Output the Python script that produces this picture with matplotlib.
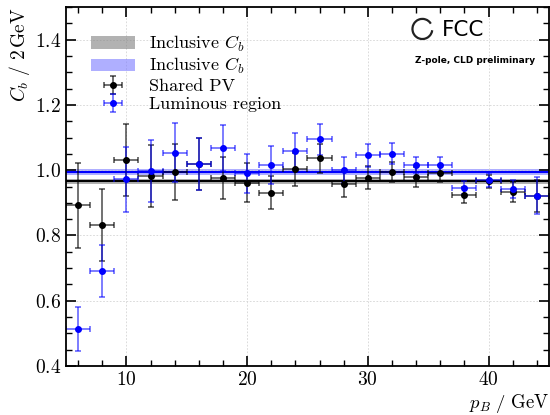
import numpy as np
import matplotlib
matplotlib.use("Agg")
import matplotlib.pyplot as plt
from matplotlib.patches import Arc

plt.rcParams['font.family'] = 'serif'
plt.rcParams['font.serif'] = ['cmr10']
plt.rcParams['mathtext.fontset'] = 'cm'
plt.rcParams['axes.formatter.use_mathtext'] = True
plt.rcParams['axes.unicode_minus'] = False

# bin centres / half widths (GeV)
p_b = np.arange(6, 46, 2)
p_err = np.ones(len(p_b))

# Shared PV
cb_pv = [0.892, 0.832, 1.032, 0.982, 0.995, 1.018, 0.977, 0.962, 0.931, 1.003,
         1.036, 0.957, 0.977, 0.995, 0.979, 0.990, 0.924, 0.966, 0.934, 0.921]
cb_pv_err = [0.13, 0.11, 0.11, 0.095, 0.085, 0.08, 0.065, 0.06, 0.05, 0.05,
             0.045, 0.04, 0.035, 0.03, 0.03, 0.025, 0.025, 0.02, 0.03, 0.05]

# Luminous region
cb_lr = [0.514, 0.691, 0.972, 0.998, 1.054, 1.020, 1.068, 0.990, 1.016, 1.059,
         1.095, 1.002, 1.046, 1.051, 1.016, 1.016, 0.947, 0.970, 0.942, 0.922]
cb_lr_err = [0.068, 0.08, 0.10, 0.095, 0.09, 0.08, 0.07, 0.06, 0.057, 0.055,
             0.048, 0.04, 0.035, 0.032, 0.026, 0.025, 0.02, 0.02, 0.027, 0.057]

# inclusive values
incl_pv, incl_pv_err = 0.966, 0.008
incl_lr, incl_lr_err = 0.995, 0.009

fig = plt.figure(figsize=(5.5, 4.15), dpi=100)
ax = fig.add_axes([0.12, 0.118, 0.878, 0.865])

ax.axhspan(incl_pv - incl_pv_err, incl_pv + incl_pv_err, color='gray', alpha=0.6,
           lw=0, label=r'Inclusive $C_b$')
ax.axhline(incl_pv, color='black', lw=1.5)
ax.axhspan(incl_lr - incl_lr_err, incl_lr + incl_lr_err, color='#7b7bff', alpha=0.6,
           lw=0, label=r'Inclusive $C_b$')
ax.axhline(incl_lr, color='blue', lw=1.5)

eb = ax.errorbar(p_b, cb_pv, xerr=p_err, yerr=cb_pv_err, fmt='o', color='black',
                 ms=4, elinewidth=1.2, capsize=2, capthick=1.2, label='Shared PV')
for art in eb[1] + eb[2]:
    art.set_alpha(0.65)
eb = ax.errorbar(p_b, cb_lr, xerr=p_err, yerr=cb_lr_err, fmt='o', color='blue',
                 ms=4, elinewidth=1.2, capsize=2, capthick=1.2, label='Luminous region')
for art in eb[1] + eb[2]:
    art.set_alpha(0.6)

ax.set_xlim(5, 45)
ax.set_ylim(0.4, 1.5)
ax.set_xticks([10, 20, 30, 40])
ax.set_yticks([0.4, 0.6, 0.8, 1.0, 1.2, 1.4])
ax.set_xticks(np.arange(6, 46, 2), minor=True)
ax.set_yticks(np.arange(0.4, 1.51, 0.05), minor=True)
ax.tick_params(which='both', direction='in', top=True, right=True, labelsize=14)
ax.tick_params(which='major', length=7, width=1.2)
ax.tick_params(which='minor', length=4, width=1.0)
for s in ax.spines.values():
    s.set_linewidth(1.3)
ax.grid(True, which='major', ls=(0, (2, 2)), color='#d4d4d4', lw=0.6)

ax.set_xlabel(r'$p_B\ /\ \mathrm{GeV}$', fontsize=13.5, loc='right', labelpad=2)
ax.set_ylabel(r'$C_b\ /\ 2\,\mathrm{GeV}$', fontsize=14, loc='top', labelpad=2)

ax.legend(loc='upper left', bbox_to_anchor=(0.015, 0.975), frameon=False, fontsize=13,
          handlelength=2.4, labelspacing=0.12, borderaxespad=0.6)

# FCC logo
ax.add_patch(Arc((0.738, 0.939), 0.041, 0.056, theta1=40, theta2=350,
                 transform=ax.transAxes, color='#222222', lw=1.6))
ax.text(0.779, 0.936, 'FCC', transform=ax.transAxes, fontsize=15.5,
        family='DejaVu Sans', va='center', ha='left')
ax.text(0.847, 0.85, 'Z-pole, CLD preliminary', transform=ax.transAxes, fontsize=6.5,
        family='DejaVu Sans', weight='bold', va='center', ha='center')

fig.savefig('out.png', dpi=100)
